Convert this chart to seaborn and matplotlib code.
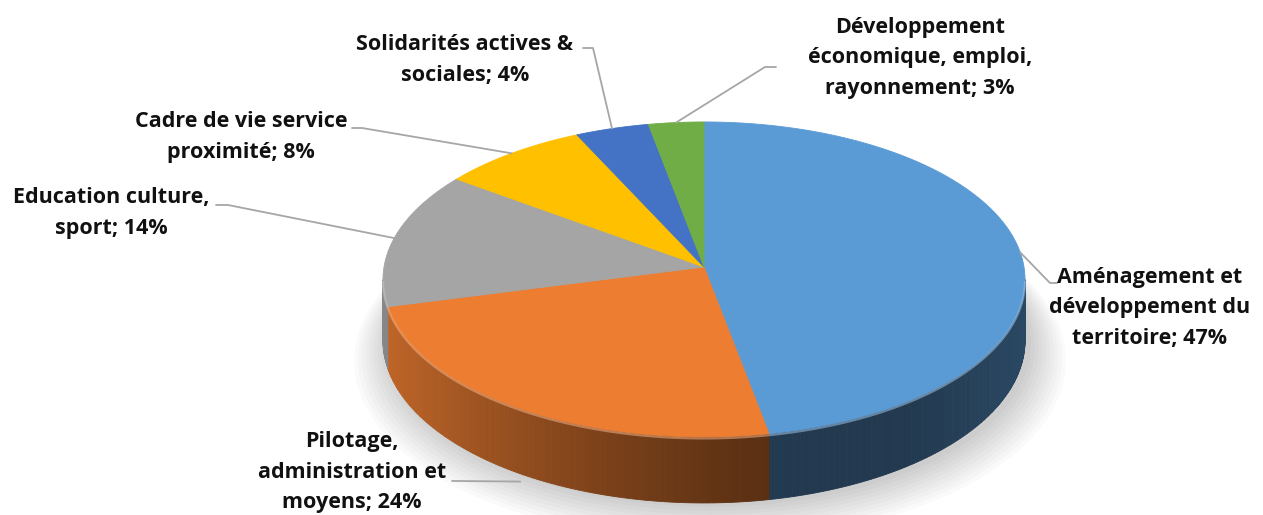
import numpy as np
import matplotlib
matplotlib.use("Agg")
import matplotlib.pyplot as plt
import seaborn as sns
from matplotlib.colors import to_rgb

# ---------------- data ----------------
categories = [
    "Aménagement et\ndéveloppement du\nterritoire",
    "Pilotage,\nadministration et\nmoyens",
    "Education culture,\nsport",
    "Cadre de vie service\nproximité",
    "Solidarités actives &\nsociales",
    "Développement\néconomique, emploi,\nrayonnement",
]
values = [47, 24, 14, 8, 4, 3]
colors = ["#5B9BD5", "#ED7D31", "#A5A5A5", "#FFC000", "#4472C4", "#70AD47"]

# label layout (text centre, elbow point, end of short horizontal)
label_pos = [(1150, 308), (352, 472), (111, 213), (241, 137), (465, 60), (920, 58)]
elbow_pos = [(1050, 283), (458, 481), (228, 205), (362, 128), (593, 48), (765, 67)]
hend_x = [1057, 452, 216, 352, 583, 776]

# ---------------- style ----------------
sns.set_theme(style="white")
plt.rcParams["font.family"] = ["Open Sans", "DejaVu Sans"]

W, H = 1263, 515
fig = plt.figure(figsize=(W / 100, H / 100), dpi=100)
ax = fig.add_axes([0, 0, 1, 1])
ax.set_xlim(0, W)
ax.set_ylim(H, 0)
ax.axis("off")

# pie geometry (screen units)
CX, CY = 704, 267
RX, RY = 320, 156.5
P = 0.079          # perspective factor
DEPTH = 60.8


def proj(theta_deg, h=0.0, scale=1.0):
    t = np.radians(theta_deg)
    X, Z = np.sin(t) * scale, np.cos(t) * scale
    s = 1.0 / (1.0 + P * Z)
    x = CX + RX * X * s
    y = CY - RY * Z * s + DEPTH * h * s
    return x, y


def shade(theta_deg):
    s = np.sin(np.radians(theta_deg))
    return 0.37 + 0.45 * max(0.0, (0.25 - s) / 1.25) ** 1.3 + 0.10 * max(0.0, (s - 0.6) / 0.4)


total = float(sum(values))
starts = np.concatenate([[0], np.cumsum(values)[:-1]]) / total * 360.0
ends = np.cumsum(values) / total * 360.0

# soft shadow under the pie
for k in range(10):
    th = np.linspace(0, 360, 361)
    sc = 1.0 + 0.012 * k
    xs, ys = proj(th, h=1.0, scale=sc)
    ax.fill(xs + 6, ys + 4 + 1.5 * k, color="black", alpha=0.018, lw=0, zorder=0)

# visible side range
th_r = np.degrees(np.arccos(-P))
side_lo, side_hi = th_r, 360 - th_r

# sides with shading strips
for a0, a1, col in zip(starts, ends, colors):
    lo, hi = max(a0, side_lo), min(a1, side_hi)
    if hi <= lo:
        continue
    base = np.array(to_rgb(col))
    edges = np.linspace(lo, hi, int(np.ceil(hi - lo)) * 2 + 2)
    for e0, e1 in zip(edges[:-1], edges[1:]):
        th = np.linspace(e0, e1, 3)
        xt, yt = proj(th, 0)
        xb, yb = proj(th[::-1], 1)
        c = np.clip(base * shade((e0 + e1) / 2), 0, 1)
        ax.fill(np.concatenate([xt, xb]), np.concatenate([yt, yb]),
                color=c, lw=0.6, ec=c, zorder=1)

# top face wedges
for a0, a1, col in zip(starts, ends, colors):
    th = np.linspace(a0, a1, max(4, int((a1 - a0) * 2)))
    xs, ys = proj(th, 0)
    ax.fill(np.concatenate([[CX], xs]), np.concatenate([[CY], ys]),
            color=col, lw=0.6, ec=col, zorder=2)

# light bevel rim on the front edge
for a0, a1, col in zip(starts, ends, colors):
    lo, hi = max(a0, side_lo), min(a1, side_hi)
    if hi <= lo:
        continue
    th = np.linspace(lo, hi, 100)
    xs, ys = proj(th, 0)
    light = np.clip(np.array(to_rgb(col)) * 0.6 + 0.4, 0, 1)
    ax.plot(xs, ys + 1.5, color=light, lw=1.6, alpha=0.55, zorder=3,
            solid_capstyle="butt")

# labels and leader lines
for i, (cat, v) in enumerate(zip(categories, values)):
    mid = (starts[i] + ends[i]) / 2
    if np.cos(np.radians(mid)) < -0.5:
        ax_, ay_ = proj(mid, 1.12)
    else:
        ax_, ay_ = proj(mid, 0)
    ex, ey = elbow_pos[i]
    ax.plot([ax_, ex, hend_x[i]], [ay_, ey, ey], color="#A6A6A6", lw=1.3, zorder=4)
    tx, ty = label_pos[i]
    ax.text(tx, ty, f"{cat}; {v}%", ha="center", va="center",
            fontsize=15.5, fontweight="bold", color="#111111",
            linespacing=1.6, zorder=5)

fig.savefig("out.png", dpi=100, facecolor="white")
